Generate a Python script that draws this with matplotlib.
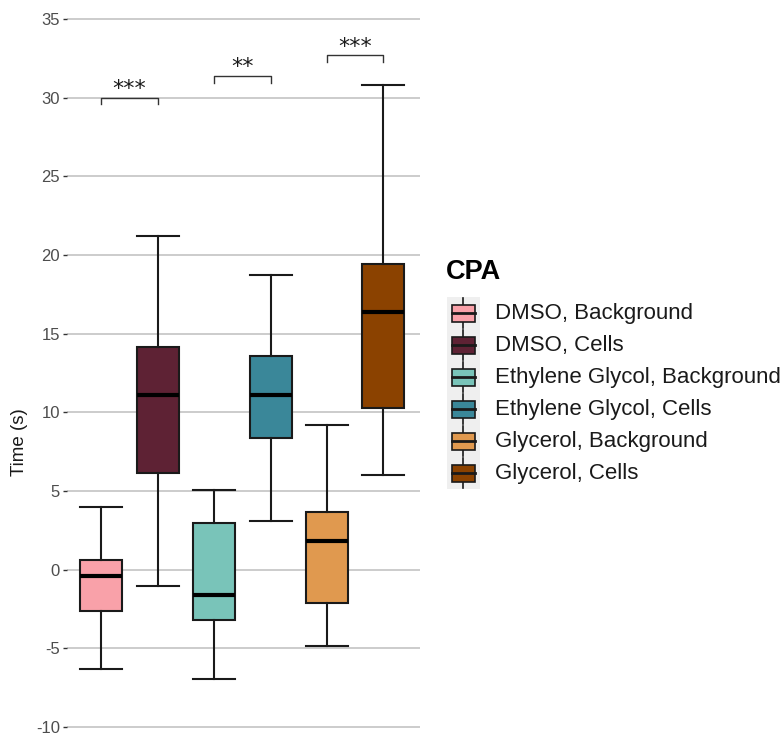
import matplotlib
matplotlib.use("Agg")
import matplotlib.pyplot as plt
from matplotlib.patches import Rectangle

plt.rcParams['font.family'] = ['Liberation Sans', 'DejaVu Sans']
plt.rcParams['axes.unicode_minus'] = False

# legend order / labels
labels = ['DMSO, Background', 'DMSO, Cells',
          'Ethylene Glycol, Background', 'Ethylene Glycol, Cells',
          'Glycerol, Background', 'Glycerol, Cells']
colors = ['#F9A1A9', '#5E2234', '#79C4B9', '#3A8799', '#E0994F', '#8B4200']

# box stats
low_whisker = [-6.30, -1.06, -6.93, 3.13, -4.86, 6.00]
q1 = [-2.59, 6.12, -3.22, 8.35, -2.10, 10.30]
median = [-0.41, 11.10, -1.63, 11.10, 1.82, 16.40]
q3 = [0.63, 14.17, 2.98, 13.56, 3.70, 19.45]
high_whisker = [4.00, 21.23, 5.06, 18.70, 9.17, 30.78]

groups = [1, 2, 3]
dodge = 0.25
box_w = 0.372

# significance brackets
sig_y = [30.0, 31.37, 32.7]
sig_text = ['***', '**', '***']

fig = plt.figure(figsize=(7.84, 7.36), dpi=100)
ax = fig.add_axes([67 / 784, 1 - 735 / 736, 353 / 784, 725 / 736])

positions = []
for g in groups:
    positions += [g - dodge, g + dodge]

stats = []
for i in range(len(labels)):
    stats.append(dict(whislo=low_whisker[i], q1=q1[i], med=median[i],
                      q3=q3[i], whishi=high_whisker[i], fliers=[]))

bp = ax.bxp(stats, positions=positions, widths=box_w, capwidths=box_w,
            patch_artist=True, showfliers=False,
            boxprops=dict(linewidth=1.5, edgecolor='#1A1A1A'),
            whiskerprops=dict(linewidth=1.5, color='#1A1A1A'),
            capprops=dict(linewidth=1.5, color='#1A1A1A'),
            medianprops=dict(linewidth=3, color='black', solid_capstyle='butt'),
            zorder=3)
for patch, c in zip(bp['boxes'], colors):
    patch.set_facecolor(c)

for g, y, t in zip(groups, sig_y, sig_text):
    x0, x1 = g - dodge, g + dodge
    ax.plot([x0, x0, x1, x1], [y - 0.42, y, y, y - 0.42], color='#333333', lw=1, zorder=3)
    ax.text(g, y + 0.55, t, ha='center', va='center', fontsize=16,
            family='DejaVu Sans', color='#1A1A1A')

ax.set_xlim(0.446, 3.574)
ax.set_ylim(-10.5, 35.57)
ax.set_yticks(range(-10, 36, 5))
ax.set_xticks([])
ax.grid(axis='y', color='#C4C4C4', linewidth=1.2)
ax.set_axisbelow(True)
for s in ax.spines.values():
    s.set_visible(False)
ax.tick_params(axis='y', labelsize=12, labelcolor='#4D4D4D', color='#333333',
               length=3, width=1, pad=2)

fig.text(19.5 / 784, 1 - 442 / 736, 'Time (s)', rotation=90, ha='center',
         va='center', fontsize=13.5, color='#1A1A1A')

# legend drawn in pixel coords
lg = fig.add_axes([0, 0, 1, 1])
lg.set_xlim(0, 784)
lg.set_ylim(736, 0)
lg.axis('off')
lg.text(446, 272, 'CPA', fontsize=19.5, fontweight='bold', va='center', ha='left')
lg.add_patch(Rectangle((447, 297), 33, 192, facecolor='#EFEFEF', edgecolor='none'))
for i, (lab, c) in enumerate(zip(labels, colors)):
    yc = 313 + 32 * i
    lg.plot([463.5, 463.5], [yc - 15, yc + 15], color='#1A1A1A', lw=1.2)
    lg.add_patch(Rectangle((452, yc - 8.5), 23, 17, facecolor=c,
                           edgecolor='#1A1A1A', lw=1.2, zorder=3))
    lg.plot([452, 475], [yc, yc], color='#1A1A1A', lw=2, zorder=4)
    lg.text(495, yc, lab, fontsize=16, va='center', ha='left', color='#1A1A1A')

fig.savefig('out.png', dpi=100)
